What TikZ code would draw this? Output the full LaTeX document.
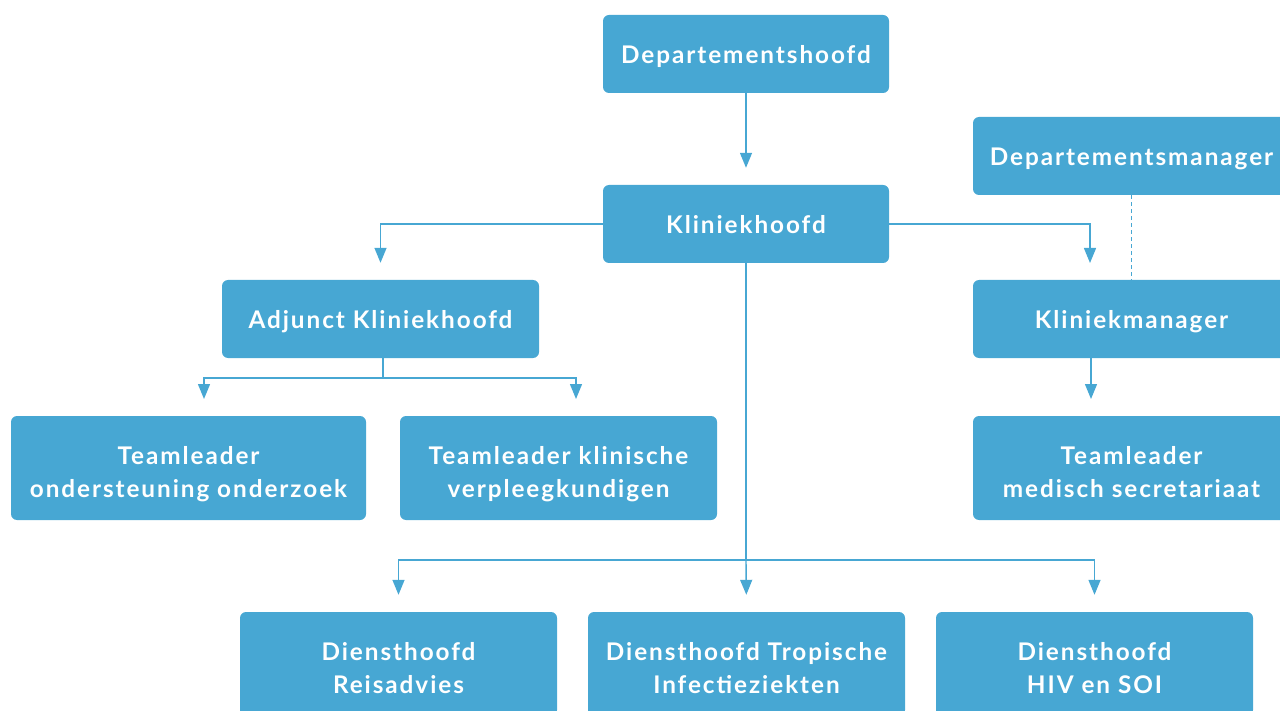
\documentclass[tikz,border=0pt]{standalone}
\usepackage{fontspec}
\setmainfont{Lato}[LetterSpace=8]
\usetikzlibrary{arrows.meta}
\definecolor{orgblue}{HTML}{47A7D3}
% box labels: baseline placed at a fixed offset below the box centre
\newcommand{\oneline}[1]{\raisebox{-10pt}[0pt][0pt]{#1}}
\newcommand{\twoline}[2]{\raisebox{-29.3pt}[0pt][0pt]{%
  \begin{tabular}[b]{@{}c@{}}#1\\#2\end{tabular}}}
\tikzset{
  box/.style={fill=orgblue, rounded corners=6pt, inner sep=0pt,
    text=white, font=\fontsize{24.3}{32.6}\selectfont\bfseries},
  onebox/.style={box, minimum height=78pt},
  twobox/.style={box, minimum height=104pt},
  link/.style={draw=orgblue, line width=1.4pt,
    -{Triangle[width=12pt,length=15pt]}, shorten >=17pt},
  plain/.style={draw=orgblue, line width=1.4pt},
}
\begin{document}
\begin{tikzpicture}[x=1pt,y=-1pt]
\useasboundingbox (0,0) rectangle (1280,711);
\clip (0,0) rectangle (1280,711);

% boxes
\node[onebox, minimum width=286pt] (dh) at (746,54) {\oneline{Departementshoofd}};
\node[onebox, minimum width=286pt] (kh) at (746,224) {\oneline{Kliniekhoofd}};
\node[onebox, minimum width=317pt] (dm) at (1131.5,156) {\oneline{Departementsmanager}};
\node[onebox, minimum width=317pt] (km) at (1131.5,319) {\oneline{Kliniekmanager}};
\node[onebox, minimum width=317pt] (adj) at (380.5,319) {\oneline{Adjunct Kliniekhoofd}};
\node[twobox, minimum width=355pt] (tl1) at (188.5,468) {\twoline{Teamleader}{ondersteuning onderzoek}};
\node[twobox, minimum width=317pt] (tl2) at (558.5,468) {\twoline{Teamleader klinische}{verpleegkundigen}};
\node[twobox, minimum width=317pt] (tl3) at (1131.5,468) {\twoline{Teamleader}{medisch secretariaat}};
\node[twobox, minimum width=317pt] (d1) at (398.5,664) {\twoline{Diensthoofd}{Reisadvies}};
\node[twobox, minimum width=317pt] (d2) at (746.5,664) {\twoline{Diensthoofd Tropische}{Infectieziekten}};
\node[twobox, minimum width=317pt] (d3) at (1094.5,664) {\twoline{Diensthoofd}{HIV en SOI}};

% connection points
\coordinate (kmin) at (1090,280);
\coordinate (adjout) at (383,358);
\coordinate (adjfork) at (383,378);
\coordinate (tl1in) at (204,416);
\coordinate (tl2in) at (576,416);
\coordinate (tl3in) at (1091,416);
\coordinate (kmout) at (1091,358);
\coordinate (khfork) at (746,560);

% connectors
\draw[link] (dh.south) -- (kh.north);
\draw[link] (kh.west) -| (adj.north);
\draw[link] (kh.east) -| (kmin);
\draw[plain, dash pattern=on 4pt off 3pt] (dm.south) -- (km.north);
\draw[plain] (adjout) -- (adjfork);
\draw[link] (adjfork) -| (tl1in);
\draw[link] (adjfork) -| (tl2in);
\draw[link] (kmout) -- (tl3in);
\draw[plain] (kh.south) -- (khfork);
\draw[link] (khfork) -| (d1.north);
\draw[link] (khfork) -- (d2.north);
\draw[link] (khfork) -| (d3.north);
\end{tikzpicture}
\end{document}
